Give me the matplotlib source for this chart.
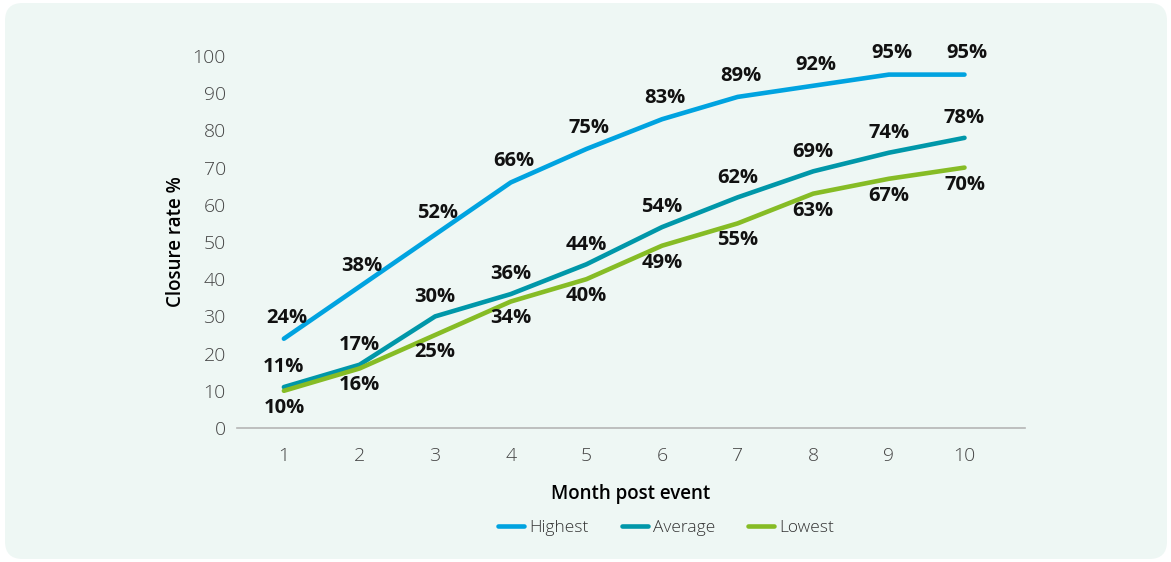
import matplotlib
matplotlib.use("Agg")
import matplotlib.pyplot as plt
from matplotlib.patches import FancyBboxPatch
from matplotlib.lines import Line2D

months = [1, 2, 3, 4, 5, 6, 7, 8, 9, 10]
highest = [24, 38, 52, 66, 75, 83, 89, 92, 95, 95]
average = [11, 17, 30, 36, 44, 54, 62, 69, 74, 78]
lowest = [10, 16, 25, 34, 40, 49, 55, 63, 67, 70]

c_high = '#00a3e0'
c_avg = '#0097a9'
c_low = '#86bc25'
bg = '#eef7f4'

plt.rcParams['font.family'] = ['Open Sans', 'DejaVu Sans']

fig = plt.figure(figsize=(11.71, 5.62), dpi=100)
fig.patch.set_facecolor('white')

# rounded panel behind everything
panel = FancyBboxPatch((5 / 1171, 3 / 562), 1162 / 1171, 556 / 562,
                       boxstyle='round,pad=0,rounding_size=0.015',
                       transform=fig.transFigure, facecolor=bg, edgecolor='none',
                       mutation_aspect=1171 / 562, zorder=-10)
fig.patches.append(panel)

ax = fig.add_axes([237 / 1171, 134 / 562, 788 / 1171, 372 / 562])
ax.set_facecolor('none')

lw = 3.3
ax.plot(months, highest, color=c_high, lw=lw, solid_capstyle='round', clip_on=False)
ax.plot(months, average, color=c_avg, lw=lw, solid_capstyle='round', clip_on=False)
ax.plot(months, lowest, color=c_low, lw=lw, solid_capstyle='round', clip_on=False)

lab = dict(ha='center', fontsize=14.5, fontweight='bold', color='#111111',
           textcoords='offset points', clip_on=False)
for x, v in zip(months, highest):
    ax.annotate(f'{v}%', (x, v), xytext=(2, 8), va='bottom', **lab)
for x, v in zip(months, average):
    ax.annotate(f'{v}%', (x, v), xytext=(0, 7), va='bottom', **lab)
for x, v in zip(months, lowest):
    ax.annotate(f'{v}%', (x, v), xytext=(0, -5), va='top', **lab)

ax.set_xlim(0.38, 10.8)
ax.set_ylim(0, 100)
ax.set_xticks(months)
ax.set_yticks(range(0, 101, 10))
ax.tick_params(length=0, labelsize=14, labelcolor='#444444')
ax.tick_params(axis='x', pad=14)
ax.tick_params(axis='y', pad=8)
for t in ax.get_xticklabels() + ax.get_yticklabels():
    t.set_fontweight('light')

for s in ['top', 'right', 'left']:
    ax.spines[s].set_visible(False)
ax.spines['bottom'].set_color('#b5b5b5')
ax.spines['bottom'].set_linewidth(1.2)

ax.set_xlabel('Month post event', fontsize=13.5, fontweight='semibold', labelpad=13)
ax.set_ylabel('Closure rate %', fontsize=13.5, fontweight='semibold', labelpad=5)

handles = [Line2D([], [], color=c, lw=lw, solid_capstyle='round') for c in (c_high, c_avg, c_low)]
leg = fig.legend(handles, ['Highest', 'Average', 'Lowest'], loc='center',
                 bbox_to_anchor=(666 / 1171, 1 - 528 / 562), ncol=3, frameon=False,
                 fontsize=12.5, handlelength=1.5, handletextpad=0.3, columnspacing=1.9)
for t in leg.get_texts():
    t.set_color('#333333')
    t.set_fontweight('light')

fig.savefig('out.png', dpi=100, facecolor='white')
